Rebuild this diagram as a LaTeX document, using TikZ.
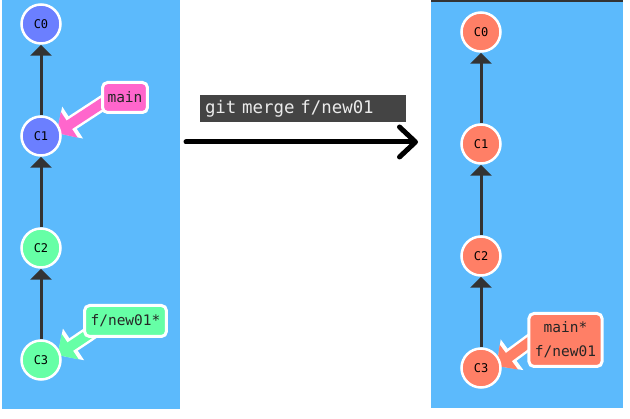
\documentclass[tikz,border=0pt]{standalone}
\usepackage{fontspec}
\setmonofont{DejaVu Sans Mono}
\usepackage{xcolor}
\usepackage{tikz}
\usetikzlibrary{arrows.meta,positioning}
\definecolor{panelc}{RGB}{92,186,252}
\definecolor{stripc}{RGB}{51,51,51}
\definecolor{bluec}{RGB}{107,127,255}
\definecolor{greenc}{RGB}{102,255,166}
\definecolor{salmonc}{RGB}{255,127,102}
\definecolor{pinkc}{RGB}{255,102,204}
\definecolor{linec}{RGB}{51,51,51}
\definecolor{cmdc}{RGB}{68,68,68}
\pgfdeclarelayer{bg}
\pgfsetlayers{bg,main}
\tikzset{
  commit/.style={circle,draw=white,line width=2.5pt,fill=#1,minimum size=39pt,inner sep=0pt,font=\ttfamily\fontsize{12}{12}\selectfont,text=black},
  tagbox/.style={rectangle,rounded corners=5pt,draw=white,line width=3pt,fill=#1,minimum height=30pt,inner xsep=5pt,font=\ttfamily\fontsize{14.5}{24}\selectfont,align=center,text=black!85},
  cmd/.style={rectangle,fill=cmdc,minimum height=27pt,text width=196pt,inner xsep=5pt,align=left,font=\ttfamily\fontsize{17.4}{17.4}\selectfont,text=white!92!black},
  parent/.style={draw=linec,line width=3pt,-{Triangle[width=21pt,length=11pt]}},
  ptr/.style={line width=10pt,draw=#1,-{Triangle[width=30pt,length=15pt]},preaction={draw=white,line width=15pt,-{Triangle[width=37pt,length=19pt]}}},
  merge/.style={line width=5pt,line cap=round,-{Straight Barb[length=16pt,width=30pt,line cap=round,line join=round]}}
}
\begin{document}
\begin{tikzpicture}[x=1pt,y=-1pt,node distance=70.5pt]
    \useasboundingbox (0,0) rectangle (630,419);

    % left: before the merge
    \node[commit=bluec] (lc0) at (41,24) {C0};
    \node[commit=bluec, below=of lc0] (lc1) {C1};
    \node[commit=greenc, below=of lc1] (lc2) {C2};
    \node[commit=greenc, below=of lc2] (lc3) {C3};
    \node[tagbox=pinkc] (lmain) at (125,97.5) {main};
    \node[tagbox=greenc, minimum height=31pt, inner xsep=6pt] (lnew) at (125.5,321) {f/new01*};

    \draw[parent] (lc1) -- (lc0);
    \draw[parent] (lc2) -- (lc1);
    \draw[parent] (lc3) -- (lc2);

    % command and merge arrow
    \node[cmd] (gitcmd) at (303,108.5) {git merge f/new01};
    \coordinate (mfrom) at (186,142);
    \coordinate (mto) at (418,142);
    \draw[merge] (mfrom) -- (mto);

    % right: after the merge
    \node[commit=salmonc] (rc0) at (481,32) {C0};
    \node[commit=salmonc, below=of rc0] (rc1) {C1};
    \node[commit=salmonc, below=of rc1] (rc2) {C2};
    \node[commit=salmonc, below=of rc2] (rc3) {C3};
    \node[tagbox=salmonc, inner xsep=6pt, minimum height=53pt] (rmain) at (565.5,340) {main*\\f/new01};

    \draw[parent] (rc1) -- (rc0);
    \draw[parent] (rc2) -- (rc1);
    \draw[parent] (rc3) -- (rc2);

    \begin{pgfonlayer}{bg}
        \fill[panelc] (2,0) rectangle (180,409);
        \fill[panelc] (431,0) rectangle (623,408);
        \fill[stripc] (431,0) rectangle (623,2);
        \draw[ptr=pinkc] ([xshift=10pt]lmain.west) -- ([xshift=-5pt,yshift=3pt]lc1.east);
        \draw[ptr=greenc] ([xshift=12pt,yshift=8pt]lnew.south west) -- ([xshift=-4pt,yshift=5pt]lc3.east);
        \draw[ptr=salmonc] ([xshift=10pt,yshift=4pt]rmain.west) -- ([xshift=-5pt,yshift=2pt]rc3.east);
    \end{pgfonlayer}
\end{tikzpicture}
\end{document}
